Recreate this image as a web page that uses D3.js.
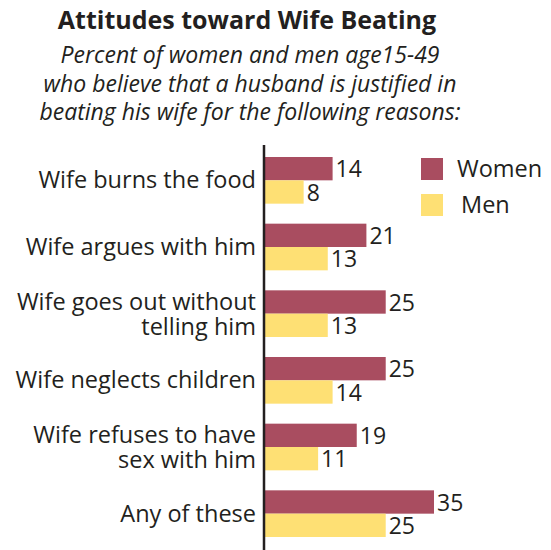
<!DOCTYPE html>
<html>
<head>
<meta charset="utf-8">
<script src="https://cdn.jsdelivr.net/npm/d3@7"></script>
<style>
  body { margin: 0; background: #fff; }
  text { font-family: "Open Sans", "DejaVu Sans", sans-serif; fill: #231f20; }
</style>
</head>
<body>
<div id="mainContainer"></div>
<script>
'use strict';

var categories = [
    ['Wife burns the food'],
    ['Wife argues with him'],
    ['Wife goes out without', 'telling him'],
    ['Wife neglects children'],
    ['Wife refuses to have', 'sex with him'],
    ['Any of these']
];
var women = [14, 21, 25, 25, 19, 35];
var men = [8, 13, 13, 14, 11, 25];
var seriesNames = ['Women', 'Men'];
var seriesColors = ['#a94d60', '#fee074'];
var subtitleLines = [
    'Percent of women and  men age15-49',
    'who believe that a husband is justified in',
    'beating his wife for the following reasons:'
];

var svgWidth = 551,
    svgHeight = 550,
    axisX = 264;

var svg = d3.select('#mainContainer')
    .append('svg')
    .attr('width', svgWidth)
    .attr('height', svgHeight);

// titles
svg.append('text')
    .attr('x', 247)
    .attr('y', 29)
    .attr('text-anchor', 'middle')
    .style('font-size', '25px')
    .style('font-weight', 'bold')
    .text('Attitudes toward Wife Beating');

svg.selectAll('.sub')
    .data(subtitleLines)
    .enter().append('text')
    .attr('class', 'sub')
    .attr('x', 250)
    .attr('y', function (d, i) { return 63 + i * 28.5; })
    .attr('text-anchor', 'middle')
    .style('font-size', '23px')
    .style('font-style', 'italic')
    .text(function (d) { return d; });

var y = d3.scaleBand()
    .domain(d3.range(categories.length))
    .range([147, 547])
    .paddingInner(0.3)
    .paddingOuter(0.15);

var x = d3.scaleLinear()
    .domain([0, 35])
    .range([axisX + 1, 434]);

var sub = d3.scaleBand()
    .domain([0, 1])
    .range([0, y.bandwidth()]);

var groups = svg.selectAll('.grp')
    .data(categories)
    .enter().append('g')
    .attr('class', 'grp')
    .attr('transform', function (d, i) { return 'translate(0,' + y(i) + ')'; });

// bars + value labels
[women, men].forEach(function (vals, s) {
    groups.append('rect')
        .attr('x', x(0))
        .attr('y', sub(s))
        .attr('width', function (d, i) { return x(vals[i]) - x(0); })
        .attr('height', sub.bandwidth())
        .attr('fill', seriesColors[s]);

    groups.append('text')
        .attr('x', function (d, i) { return x(vals[i]) + 3; })
        .attr('y', sub(s) + sub.bandwidth() - 3)
        .style('font-size', '23px')
        .text(function (d, i) { return vals[i]; });
});

// category labels
groups.each(function (lines) {
    var g = d3.select(this);
    var base = lines.length === 1 ? y.bandwidth() / 2 + 8 : y.bandwidth() / 2 - 4;
    lines.forEach(function (line, k) {
        g.append('text')
            .attr('x', 256)
            .attr('y', base + k * 25)
            .attr('text-anchor', 'end')
            .style('font-size', '23.5px')
            .text(line);
    });
});

// axis line
svg.append('line')
    .attr('x1', axisX)
    .attr('x2', axisX)
    .attr('y1', 145)
    .attr('y2', 550)
    .attr('stroke', '#231f20')
    .attr('stroke-width', 2.5);

// legend
var legend = svg.selectAll('.leg')
    .data(seriesNames)
    .enter().append('g')
    .attr('class', 'leg')
    .attr('transform', function (d, i) { return 'translate(421,' + (158 + i * 36) + ')'; });

legend.append('rect')
    .attr('width', 22)
    .attr('height', 22)
    .attr('fill', function (d, i) { return seriesColors[i]; });

legend.append('text')
    .attr('x', function (d, i) { return i === 0 ? 36 : 40; })
    .attr('y', 19)
    .style('font-size', '23.5px')
    .text(function (d) { return d; });
</script>
</body>
</html>
